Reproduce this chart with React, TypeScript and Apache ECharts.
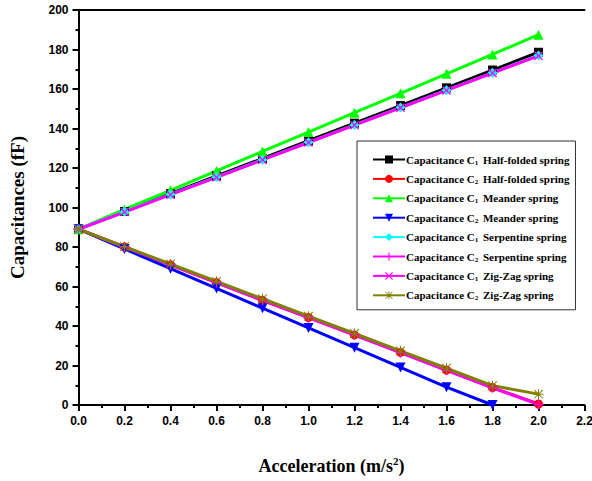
import React, { useEffect, useRef } from "react";
import * as echarts from "echarts";

const accel = [0, 0.2, 0.4, 0.6, 0.8, 1.0, 1.2, 1.4, 1.6, 1.8, 2.0];
const halfFoldedC1 = [89, 98, 107, 116, 124.8, 133.8, 142.7, 151.6, 160.6, 169.6, 178.6];
const halfFoldedC2 = [89, 80, 71, 62, 53, 44.3, 35.5, 26.6, 17.7, 8.8, 0.5];
const meanderC1 = [89, 99, 108.7, 118.5, 128.4, 138.2, 148, 157.8, 167.7, 177.5, 187.5];
const meanderC2 = [89, 79, 69, 59, 49, 39, 29, 19, 9, 0];
const serpentineC1 = [89, 97.8, 106.6, 115.4, 124.2, 133, 141.8, 150.6, 159.4, 168.2, 177];
const serpentineC2 = [89, 80, 71, 62, 53, 44.2, 35.4, 26.5, 17.6, 8.7, 0.3];
const zigZagC1 = [89, 97.7, 106.5, 115.3, 124.1, 132.9, 141.7, 150.5, 159.3, 168.1, 176.8];
const zigZagC2 = [89, 80.2, 71.4, 62.6, 53.8, 45, 36.2, 27.4, 18.6, 9.8, 5.5];

const seriesNames = [
  "Capacitance C1 Half-folded spring",
  "Capacitance C2 Half-folded spring",
  "Capacitance C1 Meander spring",
  "Capacitance C2 Meander spring",
  "Capacitance C1 Serpentine spring",
  "Capacitance C2 Serpentine spring",
  "Capacitance C1 Zig-Zag spring",
  "Capacitance C2 Zig-Zag spring",
];

const PLUS = "path://M4.3,0H5.7V4.3H10V5.7H5.7V10H4.3V5.7H0V4.3H4.3Z";
const CROSS = "path://M0,1L1,0L5,4L9,0L10,1L6,5L10,9L9,10L5,6L1,10L0,9L4,5Z";
const STAR =
  "path://M4.5,0H5.5V4.5H10V5.5H5.5V10H4.5V5.5H0V4.5H4.5Z M1,0.3L5,4.3L9,0.3L9.7,1L5.7,5L9.7,9L9,9.7L5,5.7L1,9.7L0.3,9L4.3,5L0.3,1Z";

export default function App() {
  const ref = useRef<HTMLDivElement>(null);
  useEffect(() => {
    if (!ref.current) return;
    const chart = echarts.init(ref.current, null, { renderer: "svg" });
    const datasets = [
      { data: halfFoldedC1, color: "#000000", symbol: "rect", size: 9 },
      { data: halfFoldedC2, color: "#ff0000", symbol: "circle", size: 9 },
      { data: meanderC1, color: "#00ff00", symbol: "triangle", size: 10 },
      { data: meanderC2, color: "#0000ff", symbol: "path://M0,0H10L5,10Z", size: 10 },
      { data: serpentineC1, color: "#00ffff", symbol: "diamond", size: 10 },
      { data: serpentineC2, color: "#ff00ff", symbol: PLUS, size: 10 },
      { data: zigZagC1, color: "#ff00ff", symbol: CROSS, size: 9 },
      { data: zigZagC2, color: "#808000", symbol: STAR, size: 10 },
    ];
    const series = datasets.map((d, i) => ({
      type: "line",
      name: seriesNames[i],
      data: d.data.map((v, j) => [accel[j], v]),
      symbol: d.symbol,
      symbolSize: d.size,
      showAllSymbol: true,
      lineStyle: { color: d.color, width: 3 },
      itemStyle: { color: d.color },
      clip: true,
    }));
    const tickLabel = {
      fontFamily: "Liberation Sans",
      fontWeight: "bold",
      fontSize: 12,
      color: "#000",
    };
    chart.setOption({
      animation: false,
      backgroundColor: "#fff",
      grid: { left: 78.5, right: 7.5, top: 10, bottom: 76, containLabel: false, outerBoundsMode: "none" },
      xAxis: [
        {
          type: "value",
          min: 0,
          max: 2.2,
          interval: 0.2,
          name: "Acceleration (m/s{sup|2})",
          nameLocation: "middle",
          nameGap: 50,
          nameTextStyle: {
            fontFamily: "Liberation Serif",
            fontWeight: "bold",
            fontSize: 18,
            color: "#000",
            rich: {
              sup: {
                fontFamily: "Liberation Serif",
                fontWeight: "bold",
                fontSize: 11,
                color: "#000",
                verticalAlign: "top",
                padding: [0, 0, 10, 0],
              },
            },
          },
          axisLine: { lineStyle: { color: "#000", width: 2 } },
          axisTick: { length: 6, lineStyle: { color: "#000", width: 2 } },
          minorTick: { show: true, splitNumber: 2, length: 3, lineStyle: { color: "#000", width: 2 } },
          splitLine: { show: false },
          axisLabel: { ...tickLabel, margin: 10, formatter: (v: number) => v.toFixed(1) },
        },
        {
          type: "value",
          position: "top",
          min: 0,
          max: 2.2,
          interval: 0.2,
          axisLine: { show: true, lineStyle: { color: "#000", width: 2 } },
          axisTick: { show: false },
          axisLabel: { show: false },
          splitLine: { show: false },
        },
      ],
      yAxis: {
        type: "value",
        min: 0,
        max: 200,
        interval: 20,
        name: "Capacitances (fF)",
        nameLocation: "middle",
        nameGap: 52,
        nameTextStyle: {
          fontFamily: "Liberation Serif",
          fontWeight: "bold",
          fontSize: 19,
          color: "#000",
        },
        axisLine: { show: true, lineStyle: { color: "#000", width: 2 } },
        axisTick: { length: 6, lineStyle: { color: "#000", width: 2 } },
        minorTick: { show: true, splitNumber: 2, length: 3, lineStyle: { color: "#000", width: 2 } },
        splitLine: { show: false },
        axisLabel: { ...tickLabel, margin: 10 },
      },
      legend: {
        orient: "vertical",
        left: 357,
        top: 141,
        width: 219,
        padding: [13, 6, 8, 15],
        itemWidth: 32,
        itemHeight: 10,
        itemGap: 7.4,
        backgroundColor: "#fff",
        borderColor: "#333",
        borderWidth: 1,
        borderRadius: 0,
        data: seriesNames,
        formatter: (name: string) => {
          const m = name.match(/^Capacitance C(\d) (.*)$/);
          if (!m) return name;
          return "Capacitance C{sub|" + m[1] + "} " + m[2];
        },
        textStyle: {
          fontFamily: "Liberation Serif",
          fontWeight: "bold",
          fontSize: 11,
          color: "#000",
          padding: [0, 0, 0, -4],
          rich: {
            sub: {
              fontFamily: "Liberation Serif",
              fontWeight: "bold",
              fontSize: 7,
              color: "#000",
              verticalAlign: "bottom",
              padding: [6, 2, 0, 0],
            },
          },
        },
      },
      series,
    });
    return () => chart.dispose();
  }, []);
  return <div ref={ref} style={{ width: 592, height: 481, position: "absolute", left: 0, top: 0 }} />;
}
